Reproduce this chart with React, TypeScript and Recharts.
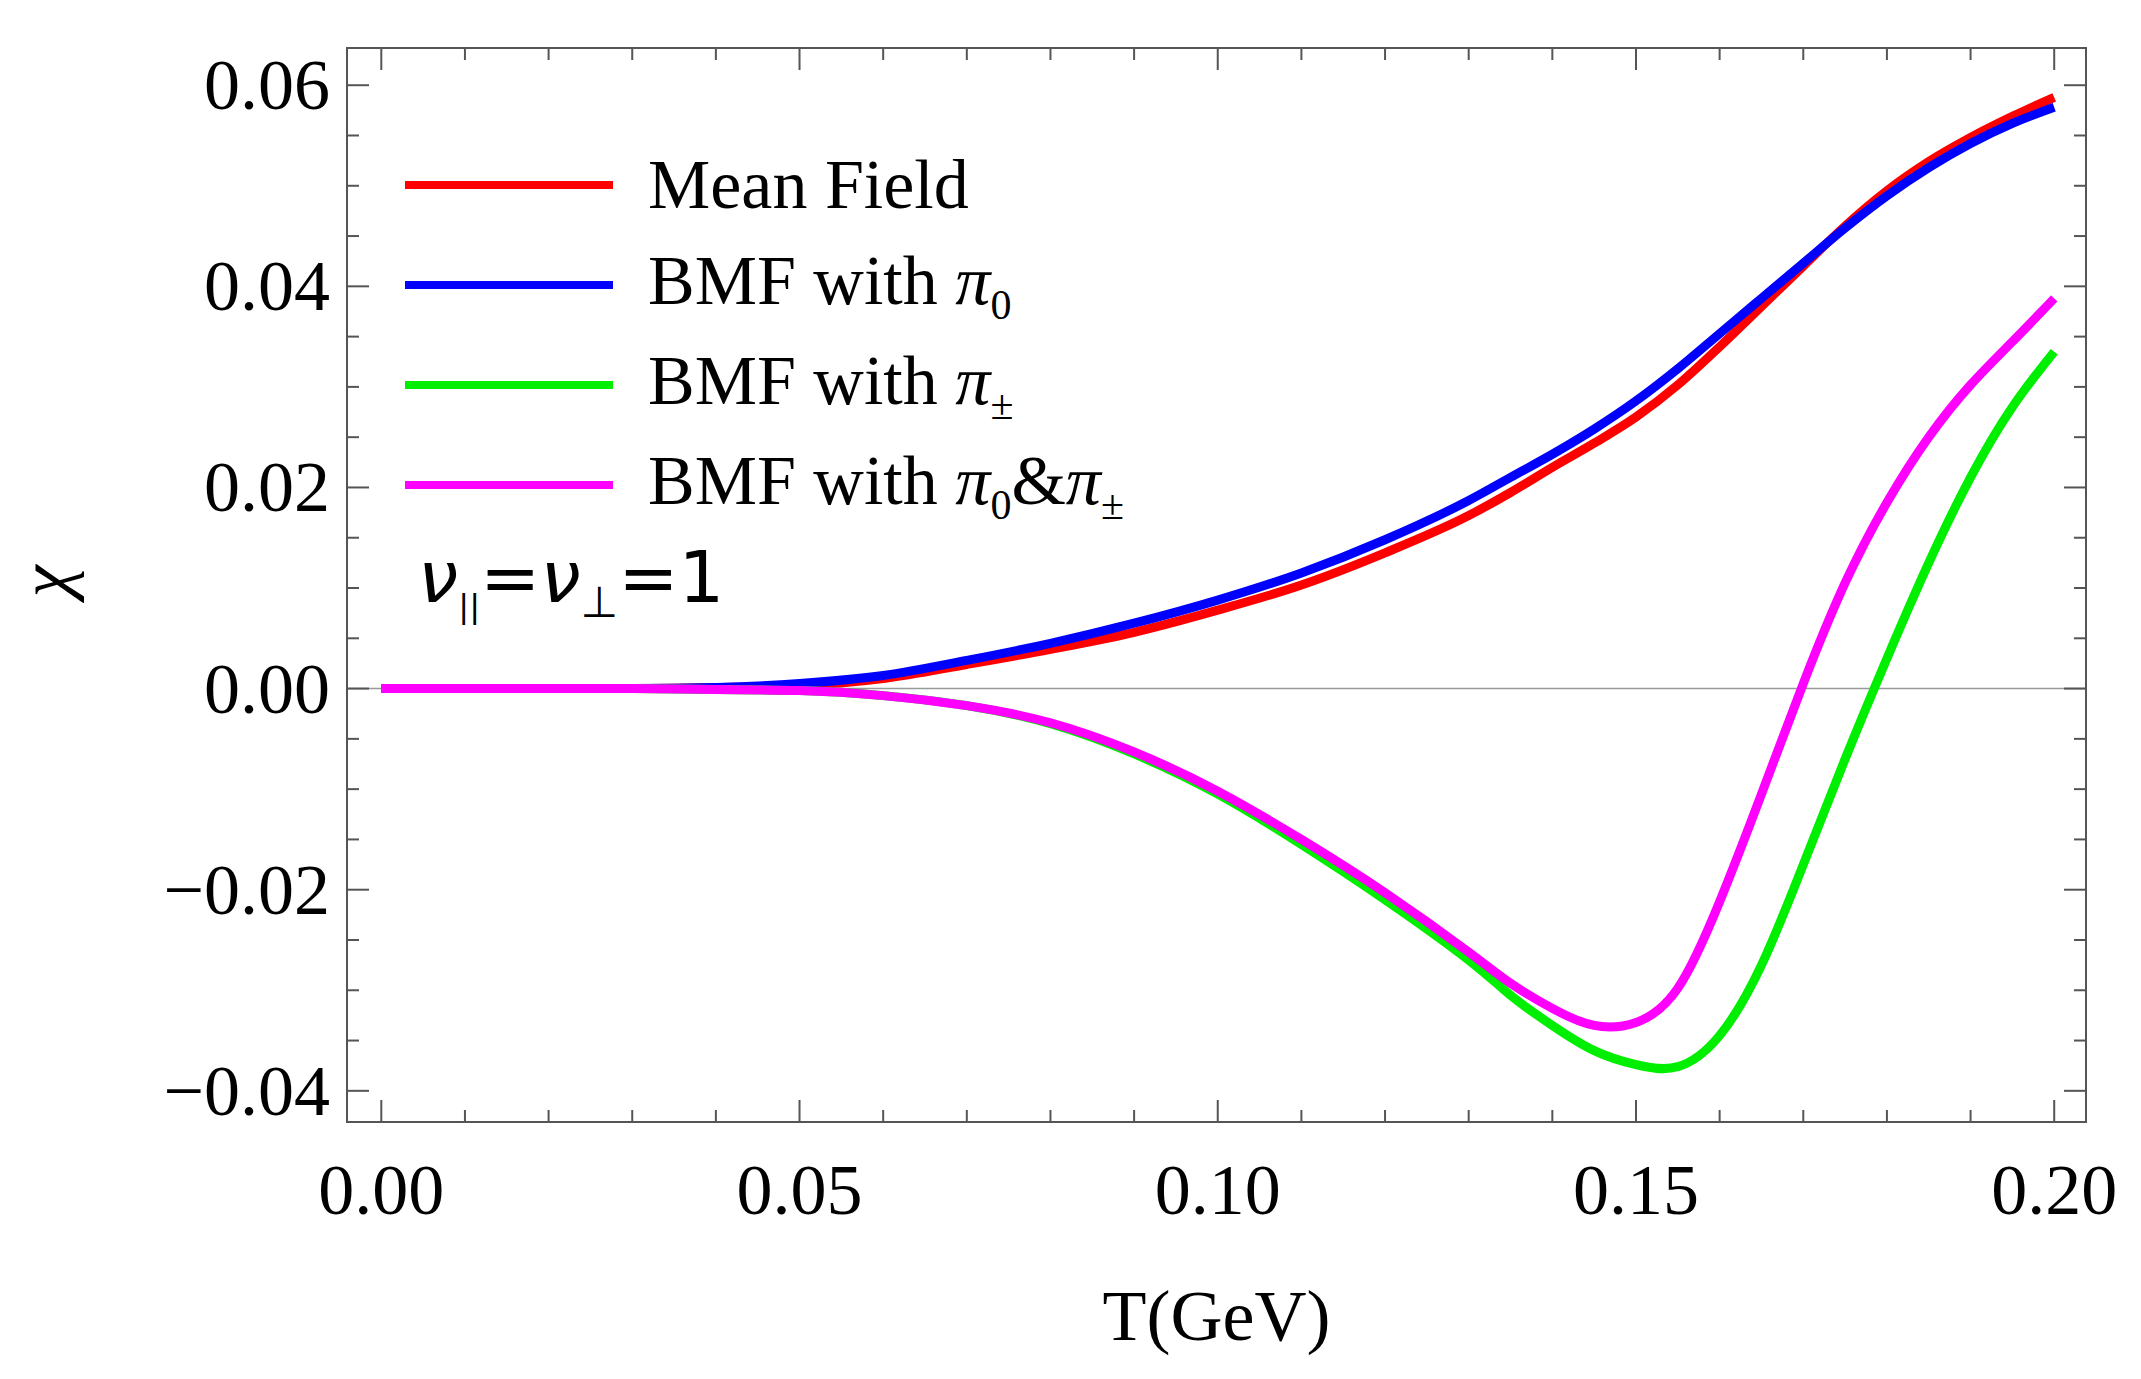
import React from 'react';
import { LineChart, Line, XAxis, YAxis, ReferenceLine } from 'recharts';

const T = [0, 0.01, 0.02, 0.03, 0.04, 0.05, 0.06, 0.07, 0.08, 0.09, 0.1, 0.11, 0.12, 0.13, 0.135, 0.14, 0.145, 0.15, 0.155, 0.16, 0.165, 0.17, 0.175, 0.18, 0.185, 0.19, 0.195, 0.2];
const meanField = [0, 0, 0, 0, 0.0001, 0.0003, 0.001, 0.0024, 0.0039, 0.0056, 0.0078, 0.0103, 0.0135, 0.0172, 0.0195, 0.022, 0.0244, 0.027, 0.0302, 0.034, 0.038, 0.042, 0.046, 0.0495, 0.0524, 0.0548, 0.0569, 0.0588];
const bmfPi0 = [0, 0, 0, 0, 0.0001, 0.0005, 0.0013, 0.0028, 0.0045, 0.0065, 0.0088, 0.0115, 0.0148, 0.0187, 0.021, 0.0233, 0.0258, 0.0286, 0.0318, 0.0353, 0.0388, 0.0423, 0.0458, 0.049, 0.0518, 0.0542, 0.0562, 0.0578];
const bmfPiPm = [0, 0, 0, 0, -0.0001, -0.0002, -0.0007, -0.0017, -0.0035, -0.0065, -0.0105, -0.0155, -0.021, -0.027, -0.0305, -0.0335, -0.036, -0.0374, -0.0376, -0.0345, -0.0275, -0.0175, -0.007, 0.003, 0.0125, 0.021, 0.028, 0.0335];
const bmfBoth = [0, 0, 0, 0, -0.0001, -0.0002, -0.0007, -0.0017, -0.0034, -0.0063, -0.0102, -0.015, -0.0203, -0.0262, -0.0293, -0.0318, -0.0335, -0.0332, -0.0298, -0.0212, -0.0105, 0.0005, 0.0105, 0.0185, 0.025, 0.0302, 0.0345, 0.0388];

const xMajor = [0, 0.05, 0.1, 0.15, 0.2];
const xMinor = [0.01, 0.02, 0.03, 0.04, 0.06, 0.07, 0.08, 0.09, 0.11, 0.12, 0.13, 0.14, 0.16, 0.17, 0.18, 0.19];
const xLabels = ['0.00', '0.05', '0.10', '0.15', '0.20'];
const yMajor = [-0.04, -0.02, 0, 0.02, 0.04, 0.06];
const yMinor = [-0.035, -0.03, -0.025, -0.015, -0.01, -0.005, 0.005, 0.01, 0.015, 0.025, 0.03, 0.035, 0.045, 0.05, 0.055];
const yLabels = ['\u22120.04', '\u22120.02', '0.00', '0.02', '0.04', '0.06'];

const data = T.map((t, i) => ({ t, mf: meanField[i], p0: bmfPi0[i], pm: bmfPiPm[i], both: bmfBoth[i] }));

const L = 347, R = 2086, TOP = 48, BOT = 1122;
const W = 2141, H = 1379;
const FONT = '"Liberation Serif", "Times New Roman", serif';
const AX = '#555';

const XTick = (p: any) => {
  const v = p.payload.value;
  const i = xMajor.findIndex((m) => Math.abs(m - v) < 1e-6);
  const len = i >= 0 ? 22 : 12;
  return (
    <g>
      <line x1={p.x} x2={p.x} y1={BOT} y2={BOT - len} stroke={AX} strokeWidth={2} />
      <line x1={p.x} x2={p.x} y1={TOP} y2={TOP + len} stroke={AX} strokeWidth={2} />
      {i >= 0 && (
        <text x={p.x} y={1214} textAnchor="middle" fontFamily={FONT} fontSize={72} fill="#000">{xLabels[i]}</text>
      )}
    </g>
  );
};

const YTick = (p: any) => {
  const v = p.payload.value;
  const i = yMajor.findIndex((m) => Math.abs(m - v) < 1e-6);
  const len = i >= 0 ? 22 : 12;
  return (
    <g>
      <line x1={L} x2={L + len} y1={p.y} y2={p.y} stroke={AX} strokeWidth={2} />
      <line x1={R} x2={R - len} y1={p.y} y2={p.y} stroke={AX} strokeWidth={2} />
      {i >= 0 && (
        <text x={330} y={p.y + 24} textAnchor="end" fontFamily={FONT} fontSize={72} fill="#000">{yLabels[i]}</text>
      )}
    </g>
  );
};

const legend = [
  { name: 'Mean Field', color: '#ff0000', sub: null },
  { name: 'BMF with ', color: '#0000ff', sub: 'p0' },
  { name: 'BMF with ', color: '#00ee00', sub: 'pm' },
  { name: 'BMF with ', color: '#ff00ff', sub: 'both' },
];

const Pi = ({ s }: { s: string }) => (
  <span><i>π</i><sub style={{ fontSize: '0.6em' }}>{s}</sub></span>
);

export default function App() {
  return (
    <div style={{ position: 'absolute', left: 0, top: 0, width: W, height: H, background: '#fff', fontFamily: FONT }}>
      <LineChart width={W} height={H} data={data} margin={{ left: L - 10, right: W - R, top: TOP, bottom: H - BOT - 10 }}>
        <XAxis dataKey="t" type="number" domain={[-0.0041, 0.2038]} allowDataOverflow
          ticks={[...xMajor, ...xMinor]} interval={0} tick={<XTick />} tickLine={false} height={10}
          axisLine={false} />
        <YAxis type="number" domain={[-0.0431, 0.0637]} allowDataOverflow
          ticks={[...yMajor, ...yMinor]} interval={0} tick={<YTick />} tickLine={false} width={10}
          axisLine={false} />
        <ReferenceLine y={0} stroke="#999" strokeWidth={1.5} />
        <Line dataKey="mf" stroke="#ff0000" strokeWidth={9} dot={false} type="monotone" isAnimationActive={false} />
        <Line dataKey="p0" stroke="#0000ff" strokeWidth={9} dot={false} type="monotone" isAnimationActive={false} />
        <Line dataKey="pm" stroke="#00ee00" strokeWidth={9} dot={false} type="natural" isAnimationActive={false} />
        <Line dataKey="both" stroke="#ff00ff" strokeWidth={9} dot={false} type="natural" isAnimationActive={false} />
      </LineChart>
      <div style={{ position: 'absolute', left: L - 1, top: TOP - 1, width: R - L + 2, height: BOT - TOP + 2, border: `2px solid ${AX}`, boxSizing: 'border-box', pointerEvents: 'none' }} />
      {legend.map((e, i) => (
        <div key={i} style={{ position: 'absolute', left: 405, top: 185 + i * 100 - 45, height: 90, display: 'flex', alignItems: 'center', fontSize: 70 }}>
          <div style={{ width: 208, height: 8, background: e.color, marginRight: 35 }} />
          <span>{e.name}
            {e.sub === 'p0' && <Pi s="0" />}
            {e.sub === 'pm' && <Pi s="±" />}
            {e.sub === 'both' && <><Pi s="0" />&amp;<Pi s="±" /></>}
          </span>
        </div>
      ))}
      <div style={{ position: 'absolute', left: 418, top: 535, fontSize: 72, fontFamily: '"DejaVu Sans", sans-serif' }}>
        <i>ν</i><sub style={{ fontSize: '0.45em' }}>||</sub>=<i>ν</i><sub style={{ fontSize: '0.6em' }}>⊥</sub>=1
      </div>
      <div style={{ position: 'absolute', left: L, width: R - L, textAlign: 'center', top: 1275, fontSize: 72 }}>
        T(GeV)
      </div>
      <div style={{ position: 'absolute', left: 30, top: 540, fontSize: 72, fontStyle: 'italic', transform: 'rotate(-90deg)' }}>χ</div>
    </div>
  );
}
